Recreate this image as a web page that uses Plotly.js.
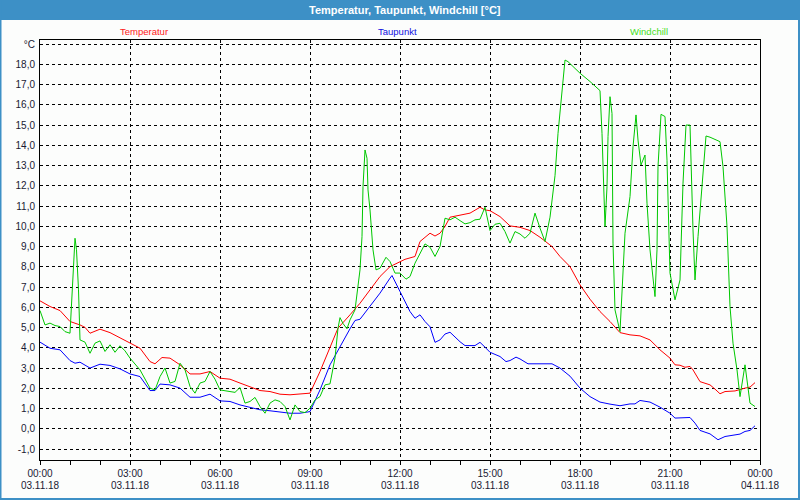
<!DOCTYPE html>
<html>
<head>
<meta charset="utf-8">
<script src="https://cdn.plot.ly/plotly-3.0.1.min.js"></script>
<style>
  html, body { margin: 0; padding: 0; background: #fcfdfc; }
  #chart { width: 800px; height: 500px; }
</style>
</head>
<body>
<div id="chart"></div>
<script>
// ---- Data ----
const day = "2018-11-03";
const seriesNames = ["Temperatur", "Taupunkt", "Windchill"];

const tTemp = ["00:00","00:20","00:40","01:00","01:20","01:30","01:40","02:00","02:20","02:40","03:00","03:20","03:40","03:50","04:04","04:20","04:40","05:00","05:20","05:40","06:00","06:20","06:40","07:00","07:20","07:40","08:00","08:20","08:40","09:00","09:20","09:40","09:56","10:20","10:40","11:00","11:20","11:40","12:00","12:10","12:30","12:40","13:00","13:10","13:20","13:30","13:40","14:00","14:20","14:40","14:50","15:00","15:20","15:40","16:00","16:20","16:40","17:04","17:20","17:40","18:00","18:20","18:40","19:00","19:20","19:40","20:00","20:20","20:40","21:00","21:10","21:20","21:30","21:40","21:46","22:00","22:20","22:30","22:40","22:50","23:10","23:30","23:40","23:50"];
const vTemp = [6.32,6.04,5.84,5.30,5.13,5.01,4.72,4.92,4.75,4.48,4.23,3.98,3.32,3.21,3.52,3.49,3.16,2.71,2.71,2.83,2.50,2.45,2.26,2.09,1.89,1.84,1.71,1.68,1.73,1.76,2.83,3.98,4.97,5.63,6.20,6.86,7.52,8.01,8.26,8.37,8.51,9.25,9.66,9.52,9.66,9.99,10.45,10.56,10.65,10.94,10.81,10.77,10.48,10.02,9.95,9.79,9.46,9.00,8.51,8.01,7.11,6.40,5.79,5.30,4.75,4.64,4.59,4.39,3.90,3.49,3.16,3.14,3.04,3.08,2.91,2.33,2.17,1.96,1.73,1.84,1.87,2.01,2.06,2.28];

const tDew = ["00:00","00:20","00:40","01:00","01:10","01:20","01:40","02:00","02:20","02:40","03:00","03:20","03:40","03:50","04:00","04:20","04:40","05:00","05:20","05:40","06:00","06:20","06:40","07:00","07:20","07:40","08:00","08:20","08:40","09:00","09:20","09:40","10:20","10:30","10:40","11:00","11:20","11:40","11:44","12:00","12:20","12:30","12:40","12:50","13:00","13:10","13:20","13:30","13:40","14:00","14:10","14:30","14:40","14:50","15:00","15:20","15:32","15:40","15:52","16:00","16:16","17:04","17:20","17:40","18:00","18:20","18:40","19:00","19:20","19:40","19:50","20:00","20:20","20:40","21:00","21:10","21:40","21:50","22:00","22:20","22:30","22:36","22:50","23:00","23:20","23:30","23:40","23:50"];
const vDew = [4.28,3.98,3.90,3.37,3.24,3.29,3.00,3.19,3.13,2.96,2.71,2.58,1.89,1.89,2.21,2.17,2.01,1.56,1.56,1.71,1.38,1.35,1.18,1.07,0.94,0.89,0.84,0.77,0.77,0.85,1.92,3.16,4.94,5.35,5.41,6.04,6.70,7.44,7.57,6.78,5.79,5.46,5.63,5.30,5.04,4.27,4.39,4.68,4.77,4.30,4.11,4.11,4.27,4.03,3.78,3.57,3.32,3.37,3.54,3.45,3.21,3.21,3.00,2.60,2.01,1.59,1.32,1.22,1.14,1.23,1.23,1.40,1.32,1.07,0.77,0.53,0.56,0.28,-0.08,-0.25,-0.46,-0.54,-0.38,-0.35,-0.26,-0.13,-0.08,0.15];

const tWind = ["00:00","00:10","00:20","00:30","00:40","00:50","01:00","01:03","01:07","01:10","01:13","01:17","01:20","01:30","01:40","01:50","02:00","02:10","02:20","02:30","02:40","02:50","03:00","03:20","03:40","03:50","04:00","04:10","04:20","04:30","04:40","04:50","05:00","05:10","05:20","05:30","05:40","05:50","06:00","06:10","06:20","06:30","06:40","06:50","07:00","07:10","07:20","07:30","07:40","07:50","08:00","08:10","08:20","08:30","08:40","08:50","09:00","09:10","09:20","09:30","09:40","09:50","09:56","10:00","10:06","10:14","10:20","10:30","10:40","10:44","10:46","10:50","10:54","10:56","11:00","11:06","11:12","11:20","11:32","11:40","11:50","12:00","12:12","12:20","12:30","12:40","12:50","13:00","13:10","13:20","13:30","13:40","13:50","14:00","14:10","14:20","14:30","14:40","14:50","15:00","15:10","15:20","15:30","15:40","15:50","16:00","16:10","16:20","16:30","16:40","16:50","17:00","17:10","17:16","17:24","17:30","17:36","18:00","18:20","18:40","18:44","18:46","18:50","18:54","18:56","19:00","19:04","19:06","19:10","19:20","19:24","19:30","19:40","19:46","19:52","19:56","20:02","20:10","20:14","20:20","20:30","20:34","20:36","20:42","20:50","20:54","21:00","21:10","21:20","21:26","21:32","21:40","21:46","21:50","21:56","22:04","22:12","22:20","22:40","22:46","22:54","23:00","23:06","23:14","23:20","23:30","23:36","23:40","23:50"];
const vWind = [5.84,5.13,5.22,5.10,5.05,4.80,4.72,6.12,7.85,9.41,8.84,6.86,4.39,4.28,3.73,4.23,4.34,3.82,4.15,3.78,4.10,3.85,3.49,2.91,2.01,1.92,2.58,3.00,2.26,2.34,3.24,2.91,2.09,1.76,2.26,2.34,2.83,2.45,1.92,1.89,1.84,1.80,2.04,1.27,1.35,1.55,1.10,0.77,1.27,1.43,1.35,1.10,0.44,1.18,0.85,0.80,1.02,1.43,1.59,2.17,2.22,3.50,4.97,5.49,5.20,4.94,5.38,5.87,7.85,9.49,11.96,13.77,13.36,11.80,10.81,8.84,7.85,7.93,8.47,8.26,7.69,7.69,7.39,7.52,8.18,8.67,9.13,8.97,8.51,9.00,10.40,10.32,10.45,10.28,10.12,10.18,10.32,10.35,10.94,9.79,10.10,10.15,9.74,9.17,9.74,9.62,9.41,9.66,10.65,9.91,9.25,10.45,12.50,14.59,16.56,18.21,18.13,17.56,17.15,16.70,14.59,13.28,9.99,11.95,14.43,16.40,15.57,9.17,5.87,4.80,7.02,9.66,11.47,13.93,15.50,14.26,13.03,13.52,11.14,8.84,6.53,8.84,12.95,15.53,15.42,13.26,7.69,6.37,7.35,12.13,15.00,15.00,9.82,7.35,9.49,12.13,14.46,14.40,14.18,12.95,9.99,6.04,4.23,2.91,1.59,3.16,2.09,1.27,1.10];

const yTickVals = [-1,0,1,2,3,4,5,6,7,8,9,10,11,12,13,14,15,16,17,18,19];
const yTickText = ["-1,0","0,0","1,0","2,0","3,0","4,0","5,0","6,0","7,0","8,0","9,0","10,0","11,0","12,0","13,0","14,0","15,0","16,0","17,0","18,0","°C"];
const chartTitle = "Temperatur, Taupunkt, Windchill [°C]";

// ---- Build ----
const W = 800, H = 500, ML = 40, MR = 40, MT = 40, MB = 40;
const PW = W - ML - MR, PH = H - MT - MB;
const px = x => (x - ML) / PW;          // pixel x -> paper
const py = y => 1 - (y - MT) / PH;      // pixel y -> paper
const toX = ts => ts.map(t => day + " " + t);

const colors = ["#ff0000", "#0000ff", "#00c800"];
const labelColors = ["#ff2020", "#1010e0", "#44dd22"];
const series = [[tTemp, vTemp], [tDew, vDew], [tWind, vWind]];

const traces = series.map((s, i) => ({
  type: "scatter", mode: "lines", name: seriesNames[i],
  x: toX(s[0]), y: s[1],
  line: { color: colors[i], width: 1 },
  hoverinfo: "x+y+name", showlegend: false
}));
// empty trace so that the date-label axis exists
traces.push({ type: "scatter", mode: "lines", x: [], y: [], xaxis: "x2", yaxis: "y", showlegend: false, hoverinfo: "skip" });

const fontFam = "Liberation Sans, Arial, sans-serif";
const tickFont = { family: fontFam, size: 10, color: "#1a1a33" };
const xRange = [day + " 00:00", "2018-11-04 00:00"];

const layout = {
  width: W, height: H,
  margin: { l: ML, r: MR, t: MT, b: MB, pad: 0 },
  paper_bgcolor: "#fcfdfc",
  plot_bgcolor: "#fcfdfc",
  showlegend: false,
  xaxis: {
    type: "date", range: xRange,
    tick0: day + " 00:00", dtick: 3 * 3600000,
    tickformat: "%H:%M",
    ticks: "outside", ticklen: 4, tickcolor: "#000", tickwidth: 1,
    minor: { dtick: 3600000, ticks: "outside", ticklen: 4, tickcolor: "#000", showgrid: false },
    showgrid: true, gridcolor: "#000", gridwidth: 1, griddash: "3px,3px",
    showline: true, linecolor: "#000", linewidth: 1, mirror: true,
    zeroline: false, tickfont: tickFont, ticklabelstandoff: 0,
    fixedrange: true
  },
  xaxis2: {
    type: "date", range: xRange, overlaying: "x", anchor: "y", side: "bottom",
    tick0: day + " 00:00", dtick: 3 * 3600000,
    tickformat: "%d.%m.%y",
    ticks: "", showgrid: false, showline: false, zeroline: false,
    tickfont: tickFont, ticklabelstandoff: 18, fixedrange: true
  },
  yaxis: {
    range: [-1.54, 19.2],
    tickmode: "array", tickvals: yTickVals, ticktext: yTickText,
    ticks: "", showgrid: true, gridcolor: "#000", gridwidth: 1, griddash: "3px,3px",
    showline: true, linecolor: "#000", linewidth: 1, mirror: true,
    zeroline: false, tickfont: tickFont, ticklabelstandoff: 2,
    fixedrange: true
  },
  shapes: [
    { type: "rect", xref: "paper", yref: "paper", x0: px(0), x1: px(800), y0: py(0), y1: py(20),
      fillcolor: "#3d90c6", line: { width: 0 }, layer: "above" },
    { type: "rect", xref: "paper", yref: "paper", x0: px(0.5), x1: px(799), y0: py(499), y1: py(0),
      fillcolor: "rgba(0,0,0,0)", line: { color: "#3d90c6", width: 2 }, layer: "above" }
  ],
  annotations: [
    { text: "<b>" + chartTitle + "</b>", xref: "paper", yref: "paper", x: px(405), y: py(10),
      xanchor: "center", yanchor: "middle", showarrow: false,
      font: { family: fontFam, size: 11, color: "#ffffff" } }
  ].concat(seriesNames.map((n, i) => ({
    text: n, xref: "paper", yref: "paper", x: px([144, 397, 649][i]), y: py(31),
    xanchor: "center", yanchor: "middle", showarrow: false,
    font: { family: fontFam, size: 9.5, color: labelColors[i] }
  })))
};

Plotly.newPlot("chart", traces, layout, { displayModeBar: false, staticPlot: true });
</script>
</body>
</html>
